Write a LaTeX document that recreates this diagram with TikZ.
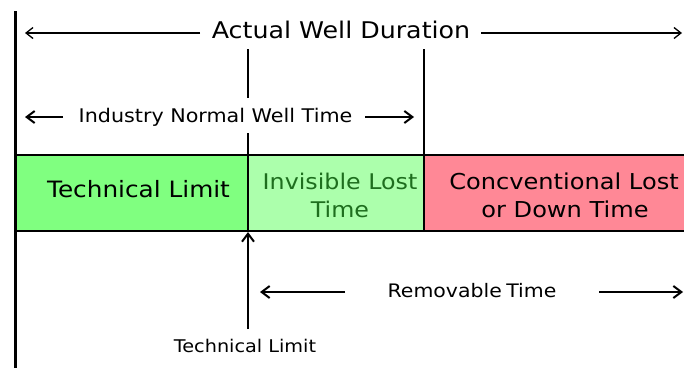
\documentclass[tikz,border=0pt]{standalone}
\usepackage{fontspec}
\setmainfont{DejaVu Sans}[FakeStretch=1.1]
\usetikzlibrary{arrows.meta}
\definecolor{techgreen}{RGB}{128,255,128}
\definecolor{invgreen}{RGB}{172,255,172}
\definecolor{downpink}{RGB}{255,136,150}
\definecolor{invtext}{RGB}{30,110,30}
\tikzset{
  thinarrow/.style={line width=1.3pt,-{Straight Barb[length=7pt,width=11pt]}},
  thickarrow/.style={line width=2pt,-{Straight Barb[length=8pt,width=12pt]}},
  divider/.style={line width=2pt},
  seg/.style={draw=black,line width=2pt},
  lbl/.style={inner sep=0pt,anchor=base},
}
\begin{document}
\begin{tikzpicture}[x=1pt,y=-1pt]
\useasboundingbox (0,0) rectangle (684,370);
% boxes
\fill[techgreen] (15,155) rectangle (248,231);
\fill[invgreen] (248,155) rectangle (424,231);
\fill[downpink] (424,155) rectangle (690,231);
\draw[seg] (15,155) -- (690,155);
\draw[seg] (15,231) -- (690,231);
% left vertical line
\coordinate (lt) at (15,11);
\coordinate (lb) at (15,368);
\draw[line width=3pt] (lt) -- (lb);
% dividers
\coordinate (d1a) at (248,49);
\coordinate (d1b) at (248,98);
\coordinate (d1c) at (248,133);
\coordinate (d1d) at (248,231);
\coordinate (d2a) at (424,49);
\coordinate (d2b) at (424,231);
\draw[divider] (d1a) -- (d1b);
\draw[divider] (d1c) -- (d1d);
\draw[divider] (d2a) -- (d2b);
% box texts
\node[lbl,font=\fontsize{22.5}{24}\selectfont] (tl) at (138.5,197) {Technical Limit};
\node[lbl,font=\fontsize{21.6}{24}\selectfont,text=invtext] (inv1) at (340,189) {Invisible Lost};
\node[lbl,font=\fontsize{21.6}{24}\selectfont,text=invtext] (inv2) at (340,217) {Time};
\node[lbl,font=\fontsize{21.9}{24}\selectfont] (cd1) at (564,189) {Concventional Lost};
\node[lbl,font=\fontsize{21.9}{24}\selectfont] (cd2) at (565,217) {or Down Time};
% top arrow
\node[lbl,font=\fontsize{23}{26}\selectfont] (adur) at (341,38.3) {Actual Well Duration};
\coordinate (aL0) at (200,33);
\coordinate (aL) at (25,33);
\coordinate (aR0) at (481,33);
\coordinate (aR) at (682,33);
\draw[thinarrow] (aL0) -- (aL);
\draw[thinarrow] (aR0) -- (aR);
% industry arrow
\node[lbl,font=\fontsize{18.8}{22}\selectfont] (inw) at (215.5,122.3) {Industry Normal Well Time};
\coordinate (iL0) at (63,117);
\coordinate (iL) at (25,117);
\coordinate (iR0) at (365,117);
\coordinate (iR) at (414,117);
\draw[thickarrow] (iL0) -- (iL);
\draw[thickarrow] (iR0) -- (iR);
% technical limit pointer
\node[lbl,font=\fontsize{17.5}{20}\selectfont] (tlb) at (245,352.3) {Technical Limit};
\coordinate (up0) at (248,329);
\coordinate (up) at (248,232);
\draw[thickarrow] (up0) -- (up);
% removable time
\node[lbl,font=\fontsize{18.6}{20}\selectfont] (rem) at (472,297.3) {Removable\kern-2pt{} Time};
\coordinate (rL0) at (345,292);
\coordinate (rL) at (260,292);
\coordinate (rR0) at (599,292);
\coordinate (rR) at (683,292);
\draw[thickarrow] (rL0) -- (rL);
\draw[thickarrow] (rR0) -- (rR);
\end{tikzpicture}
\end{document}
